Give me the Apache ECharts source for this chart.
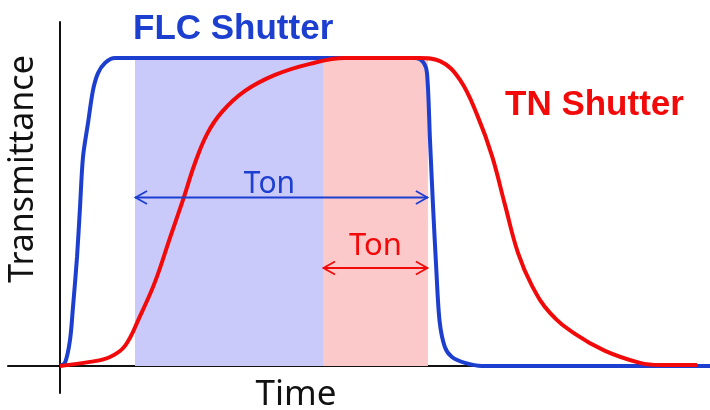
<!DOCTYPE html>
<html>
<head>
<meta charset="utf-8">
<script src="https://cdn.jsdelivr.net/npm/echarts@6/dist/echarts.min.js"></script>
<style>html,body{margin:0;padding:0;background:#fff;}#chart{width:710px;height:410px;}</style>
</head>
<body>
<div id="chart"></div>
<script>
// ---- Data (time in arbitrary units, transmittance normalised to 1) ----
const flcTime = [0, 0.77, 1.54, 2.0, 2.62, 3.08, 3.54, 4.31, 5.08, 5.85, 6.92, 8.46, 11.08, 54.6, 55.85, 56.46, 56.92, 57.38, 57.9, 58.4, 59.2, 60.3, 62.3, 64.9, 100];
const flcValue = [0, 0.010, 0.084, 0.192, 0.354, 0.516, 0.679, 0.789, 0.896, 0.951, 0.984, 1.0, 1.0, 1.0, 0.987, 0.951, 0.734, 0.523, 0.31, 0.145, 0.062, 0.029, 0.010, 0, 0];
const tnTime = [0, 4.62, 7.69, 10.0, 12.31, 14.62, 16.92, 18.92, 20.77, 22.62, 24.92, 28.46, 33.08, 38.46, 43.85, 55.38, 58.46, 61.54, 64.31, 66.46, 68.46, 70.46, 72.62, 75.38, 79.23, 83.85, 89.23, 92.31, 98.0];
const tnValue = [0, 0.013, 0.029, 0.065, 0.162, 0.273, 0.416, 0.539, 0.659, 0.753, 0.825, 0.893, 0.945, 0.981, 1.0, 1.0, 0.990, 0.929, 0.808, 0.682, 0.523, 0.367, 0.260, 0.172, 0.104, 0.049, 0.010, 0.003, 0.003];
// Shaded windows [start, end]
const flcOnWindow = [11.54, 40.46];
const tnOnWindow = [40.46, 56.6];
// Ton arrows: [start, end, level]
const flcArrow = [11.54, 56.6, 0.547];
const tnArrow = [40.46, 56.6, 0.318];
const arrowLabels = ['Ton', 'Ton'];
const seriesNames = ['FLC Shutter', 'TN Shutter'];
const axisNames = ['Time', 'Transmittance'];

const BLUE = '#1c3fd0';
const RED = '#f20a0a';

const zip = (a, b) => a.map((v, i) => [v, b[i]]);

const chart = echarts.init(document.getElementById('chart'), null, {renderer: 'canvas'});

const arrowStyles = [
  {color: BLUE, dx: -12, dy: -13, font: '30px "Noto Sans"'},
  {color: RED, dx: 0, dy: -22, font: '31px "Noto Sans"'}
];

function renderArrow(params, api) {
  const x1 = api.value(0), x2 = api.value(1), y = api.value(2), k = api.value(3);
  const p1 = api.coord([x1, y]);
  const p2 = api.coord([x2, y]);
  const st = arrowStyles[k];
  const h = 12, s = 6.5;
  return {
    type: 'group',
    children: [
      {type: 'line', shape: {x1: p1[0], y1: p1[1], x2: p2[0], y2: p2[1]}, style: {stroke: st.color, lineWidth: 1.8}},
      {type: 'polyline', shape: {points: [[p1[0] + h, p1[1] - s], [p1[0] + 0.5, p1[1]], [p1[0] + h, p1[1] + s]]}, style: {stroke: st.color, lineWidth: 1.8, fill: null}},
      {type: 'polyline', shape: {points: [[p2[0] - h, p2[1] - s], [p2[0] - 0.5, p2[1]], [p2[0] - h, p2[1] + s]]}, style: {stroke: st.color, lineWidth: 1.8, fill: null}},
      {type: 'text', x: (p1[0] + p2[0]) / 2 + st.dx, y: p1[1] + st.dy,
        style: {text: arrowLabels[k], font: st.font, fill: st.color, align: 'center', verticalAlign: 'middle'}}
    ]
  };
}

const axisCommon = {
  type: 'value',
  axisLine: {show: true, onZero: true, lineStyle: {color: '#111', width: 2}},
  axisTick: {show: false},
  axisLabel: {show: false},
  splitLine: {show: false}
};

chart.setOption({
  animation: false,
  backgroundColor: '#fff',
  grid: {left: 8, right: 0, top: 22, bottom: 17},
  xAxis: Object.assign({}, axisCommon, {min: -8, max: 100}),
  yAxis: Object.assign({}, axisCommon, {min: -0.088, max: 1.117}),
  graphic: [
    {type: 'text', x: 133, y: 29, style: {text: seriesNames[0], font: 'bold 35px "Liberation Sans", Arial, sans-serif', fill: BLUE, align: 'left', verticalAlign: 'middle'}},
    {type: 'text', x: 505, y: 105, style: {text: seriesNames[1], font: 'bold 35px "Liberation Sans", Arial, sans-serif', fill: RED, align: 'left', verticalAlign: 'middle'}},
    {type: 'text', x: 296, y: 395, style: {text: axisNames[0], font: '35px "Noto Sans"', fill: '#111', align: 'center', verticalAlign: 'middle'}},
    {type: 'text', x: 23, y: 169, rotation: Math.PI / 2, style: {text: axisNames[1], font: '34px "Noto Sans"', fill: '#111', align: 'center', verticalAlign: 'middle'}}
  ],
  series: [
    {
      type: 'line', data: [], silent: true, z: 1,
      markArea: {
        silent: true,
        data: [
          [{xAxis: flcOnWindow[0], yAxis: 0, itemStyle: {color: 'rgb(201,201,250)'}}, {xAxis: flcOnWindow[1], yAxis: 1}],
          [{xAxis: tnOnWindow[0], yAxis: 0, itemStyle: {color: 'rgb(251,201,201)'}}, {xAxis: tnOnWindow[1], yAxis: 1}]
        ]
      }
    },
    {
      name: seriesNames[0], type: 'line', z: 3, data: zip(flcTime, flcValue),
      showSymbol: false, smooth: 0.3,
      lineStyle: {color: BLUE, width: 4}
    },
    {
      name: seriesNames[1], type: 'line', z: 4, data: zip(tnTime, tnValue),
      showSymbol: false, smooth: 0.4,
      lineStyle: {color: RED, width: 4}
    },
    {
      type: 'custom', z: 5, renderItem: renderArrow, clip: false,
      encode: {x: [0, 1], y: 2},
      data: [flcArrow.concat([0]), tnArrow.concat([1])]
    }
  ]
});
</script>
</body>
</html>
